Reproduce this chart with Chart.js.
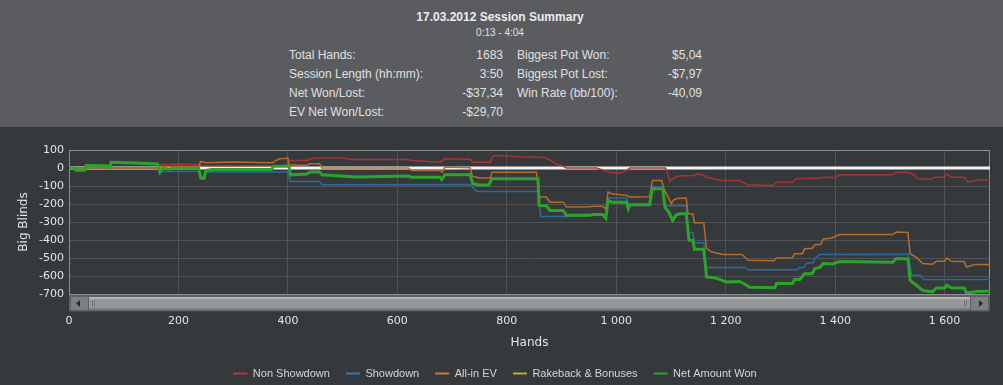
<!DOCTYPE html>
<html><head><meta charset="utf-8">
<script src="https://cdn.jsdelivr.net/npm/chart.js@4"></script>
<style>
html,body{margin:0;padding:0;width:1003px;height:385px;overflow:hidden;background:#36393c;}
#top{position:absolute;left:0;top:0;width:1003px;height:127px;background:#5a5c5f;font-family:"Liberation Sans",Arial,sans-serif;color:#e0e0e0;}
#title{position:absolute;left:0;width:1000px;top:10px;text-align:center;font-weight:bold;font-size:12px;line-height:15px;color:#ececec;}
#sub{position:absolute;left:0;width:1000px;top:27px;text-align:center;font-size:10px;line-height:12px;}
.lab,.val{position:absolute;font-size:12px;line-height:14px;white-space:nowrap;}
.val{text-align:right;}
#wrap{position:absolute;left:0;top:127px;width:1003px;height:262px;}
</style></head>
<body>
<div id="top"><div id="title"></div><div id="sub"></div></div>
<div id="wrap"><canvas id="c"></canvas></div>
<script>
// ---- summary texts ----
const titleText = "17.03.2012 Session Summary";
const subTitleText = "0:13 - 4:04";
const statLabelsLeft = ["Total Hands:", "Session Length (hh:mm):", "Net Won/Lost:", "EV Net Won/Lost:"];
const statValuesLeft = ["1683", "3:50", "-$37,34", "-$29,70"];
const statLabelsRight = ["Biggest Pot Won:", "Biggest Pot Lost:", "Win Rate (bb/100):"];
const statValuesRight = ["$5,04", "-$7,97", "-40,09"];

// ---- chart data: [hand, big blinds] ----
const seriesNames = ["Non Showdown", "Showdown", "All-in EV", "Rakeback & Bonuses", "Net Amount Won"];
const nonShowdown = [[0,0],[164,0],[168,18],[200,22],[238,20],[242,12],[260,13],[397,14],[402,42],[435,42],[440,51],[455,56],[495,56],[520,47],[620,47],[626,42],[678,32],[687,51],[733,48],[738,32],[770,32],[773,60],[778,69],[800,66],[826,62],[866,60],[872,55],[880,42],[890,23],[903,10],[909,0],[964,0],[991,-27],[1010,-27],[1019,-14],[1025,0],[1090,0],[1094,-30],[1098,-75],[1103,-60],[1108,-51],[1116,-45],[1140,-42],[1150,-32],[1160,-42],[1165,-51],[1194,-69],[1225,-69],[1240,-93],[1286,-97],[1293,-79],[1322,-79],[1329,-60],[1375,-55],[1378,-51],[1400,-54],[1408,-38],[1505,-38],[1512,-23],[1535,-25],[1545,-40],[1551,-60],[1575,-63],[1583,-51],[1600,-51],[1604,-32],[1612,-51],[1636,-51],[1642,-77],[1655,-72],[1660,-66],[1683,-66]];
const showdown = [[0,0],[164,0],[166,-32],[170,-20],[239,-20],[241,-56],[246,-56],[249,-25],[260,-22],[400,-22],[404,-75],[458,-75],[462,-93],[733,-91],[740,-115],[745,-130],[857,-130],[862,-269],[909,-269],[951,-265],[957,-260],[975,-260],[981,-278],[985,-167],[1019,-167],[1022,-204],[1061,-204],[1066,-106],[1085,-106],[1089,-210],[1128,-210],[1131,-358],[1140,-358],[1143,-415],[1160,-415],[1165,-553],[1236,-553],[1240,-565],[1330,-565],[1335,-553],[1343,-553],[1347,-531],[1360,-525],[1363,-503],[1372,-481],[1533,-479],[1540,-596],[1556,-596],[1561,-620],[1683,-620]];
const allInEV = [[0,0],[164,0],[168,8],[238,8],[240,36],[250,29],[300,33],[372,29],[378,42],[385,51],[400,54],[402,18],[435,14],[440,23],[458,23],[462,0],[620,0],[626,-14],[678,-14],[682,-23],[687,5],[733,2],[737,-45],[750,-56],[770,-56],[773,-23],[854,-23],[860,-161],[872,-161],[879,-190],[903,-190],[909,-217],[952,-215],[957,-212],[975,-212],[981,-228],[985,-134],[992,-143],[1019,-152],[1025,-161],[1061,-160],[1066,-69],[1083,-69],[1087,-115],[1093,-152],[1101,-199],[1104,-180],[1110,-170],[1128,-167],[1131,-254],[1140,-256],[1143,-304],[1160,-304],[1165,-448],[1175,-467],[1195,-481],[1230,-481],[1241,-513],[1288,-515],[1293,-500],[1322,-498],[1326,-476],[1340,-476],[1344,-448],[1358,-446],[1363,-426],[1374,-424],[1378,-396],[1394,-389],[1408,-370],[1505,-370],[1512,-356],[1533,-358],[1537,-476],[1548,-495],[1560,-531],[1578,-535],[1585,-518],[1600,-518],[1604,-500],[1612,-518],[1636,-520],[1640,-550],[1655,-536],[1683,-536]];
const rakeback = [[0,0],[1683,0]];
const netAmountWon = [[0,0],[10,0],[13,-12],[29,-12],[31,14],[70,12],[74,0],[77,32],[120,28],[162,22],[166,-23],[171,0],[183,-7],[188,-2],[237,-2],[241,-57],[247,-57],[250,-14],[260,-8],[370,-8],[374,10],[402,10],[405,-38],[435,-33],[440,-22],[458,-22],[462,-38],[526,-50],[575,-47],[620,-45],[626,-51],[678,-51],[681,-64],[687,-38],[733,-38],[738,-88],[750,-94],[767,-94],[773,-60],[830,-60],[857,-60],[859,-208],[872,-210],[879,-236],[903,-236],[909,-263],[951,-263],[957,-258],[975,-258],[981,-278],[985,-180],[992,-190],[1019,-190],[1022,-226],[1025,-204],[1061,-204],[1066,-115],[1085,-115],[1089,-217],[1096,-245],[1103,-291],[1110,-260],[1116,-254],[1128,-254],[1133,-402],[1140,-402],[1143,-452],[1160,-452],[1165,-605],[1180,-610],[1194,-624],[1200,-633],[1225,-630],[1232,-640],[1244,-663],[1290,-665],[1293,-642],[1322,-642],[1326,-618],[1335,-620],[1344,-587],[1358,-587],[1363,-559],[1372,-552],[1378,-531],[1395,-533],[1408,-520],[1505,-524],[1512,-503],[1533,-505],[1537,-624],[1548,-650],[1560,-680],[1578,-688],[1585,-666],[1600,-666],[1604,-651],[1612,-665],[1636,-667],[1640,-695],[1660,-686],[1683,-685]];
const totalHands = 1683;
const xTickValues = [0, 200, 400, 600, 800, 1000, 1200, 1400, 1600];
const yMin = -700, yMax = 100, yStep = 100;

// ---- summary layout ----
document.getElementById('title').textContent = titleText;
document.getElementById('sub').textContent = subTitleText;
const topDiv = document.getElementById('top');
const rowTops = [48, 67, 86, 105];
function addText(cls, txt, styleStr){ const d=document.createElement('div'); d.className=cls; d.textContent=txt; d.setAttribute('style',styleStr); topDiv.appendChild(d); }
statLabelsLeft.forEach((t,i)=>addText('lab',t,'left:289px;top:'+rowTops[i]+'px;'));
statValuesLeft.forEach((t,i)=>addText('val',t,'right:'+(1003-503)+'px;top:'+rowTops[i]+'px;'));
statLabelsRight.forEach((t,i)=>addText('lab',t,'left:517px;top:'+rowTops[i]+'px;'));
statValuesRight.forEach((t,i)=>addText('val',t,'right:'+(1003-702)+'px;top:'+rowTops[i]+'px;'));

const toXY = arr => arr.map(p => ({x:p[0], y:p[1]}));
const lineColors = ['#a53535', '#2c6a9c', '#b56d2c', '#b5ad32', '#2ca42c'];
const legendColors = ['#b23c3c', '#3479b0', '#c87a30', '#b8b030', '#26a826'];
const seriesData = [nonShowdown, showdown, allInEV, rakeback, netAmountWon];
const widths = [1.5, 1.5, 1.5, 1.5, 3];
const orders = [4, 3, 2, 10, 1];

const datasets = seriesData.map((d,i)=>({
  label: seriesNames[i], data: toXY(d), borderColor: lineColors[i], backgroundColor: legendColors[i],
  borderWidth: widths[i], order: orders[i], pointRadius: 0, tension: 0, fill: false, borderJoinStyle: 'miter'
}));

const decor = {
  id: 'decor',
  beforeDatasetsDraw(chart){
    const {ctx, chartArea:a} = chart;
    ctx.save();
    ctx.strokeStyle = '#8e9092'; ctx.lineWidth = 1;
    ctx.strokeRect(a.left+0.5, a.top+0.5, a.right-a.left-1, a.bottom-a.top);
    ctx.restore();
  },
  afterDatasetDraw(chart, args){
    if (args.index !== 3) return;
    const {ctx, chartArea:a, scales} = chart;
    const y0 = scales.y.getPixelForValue(0);
    ctx.save();
    ctx.strokeStyle = '#f2f2f2'; ctx.lineWidth = 3;
    ctx.beginPath(); ctx.moveTo(a.left, y0); ctx.lineTo(a.right, y0); ctx.stroke();
    ctx.restore();
  },
  afterDraw(chart){
    const {ctx, chartArea:a} = chart;
    const t = a.bottom + 1, h = 17;
    ctx.save();
    ctx.fillStyle = '#5f6265'; ctx.fillRect(a.left, t, a.right-a.left, h);
    ctx.fillStyle = '#46494c'; ctx.fillRect(a.left, t+h-1, a.right-a.left, 1);
    ctx.fillStyle = '#7c7e81'; ctx.fillRect(a.left+2, t+2, 17, h-4);
    ctx.fillStyle = '#26282a';
    ctx.beginPath(); const lx = a.left+9, my = t+h/2;
    ctx.moveTo(lx-2, my); ctx.lineTo(lx+2, my-3.5); ctx.lineTo(lx+2, my+3.5); ctx.closePath(); ctx.fill();
    ctx.fillStyle = '#7c7e81'; ctx.fillRect(a.right-19, t+2, 17, h-4);
    ctx.fillStyle = '#26282a';
    ctx.beginPath(); const rx = a.right-9;
    ctx.moveTo(rx+2, my); ctx.lineTo(rx-2, my-3.5); ctx.lineTo(rx-2, my+3.5); ctx.closePath(); ctx.fill();
    const tl = a.left+20, tr = a.right-20;
    ctx.fillStyle = '#96989a'; ctx.fillRect(tl, t+2, tr-tl, h-4);
    ctx.fillStyle = '#b3b5b7'; ctx.fillRect(tl, t+2, tr-tl, 2);
    ctx.fillStyle = '#7d7f81'; ctx.fillRect(tl, t+h-4, tr-tl, 2);
    ctx.fillStyle = '#707274';
    ctx.fillRect(tl+3, my-3, 1, 6); ctx.fillRect(tl+5, my-3, 1, 6);
    ctx.fillRect(tr-6, my-3, 1, 6); ctx.fillRect(tr-4, my-3, 1, 6);
    ctx.restore();
  }
};

const fmt = v => String(v).replace(/\B(?=(\d{3})+(?!\d))/g, ' ');
const tickColor = '#e4e4e4';
const gridColor = '#515457';

new Chart(document.getElementById('c'), {
  type: 'line',
  data: { datasets },
  plugins: [decor],
  options: {
    responsive: true, maintainAspectRatio: false, animation: false,
    layout: { padding: { top: 23, right: 13, left: 0, bottom: 0 } },
    plugins: {
      tooltip: { enabled: false },
      legend: {
        position: 'bottom',
        labels: {
          color: '#d6d6d6', font: { family: '"Liberation Sans", Arial, sans-serif', size: 11 },
          boxWidth: 14, boxHeight: 2, padding: 16,
          sort: (a,b) => a.datasetIndex - b.datasetIndex,
          generateLabels(chart){
            const items = Chart.defaults.plugins.legend.labels.generateLabels(chart);
            items.forEach(it => { it.fillStyle = legendColors[it.datasetIndex]; it.lineWidth = 0; });
            return items;
          }
        }
      }
    },
    scales: {
      x: {
        type: 'linear', min: 0, max: totalHands,
        afterBuildTicks: s => { s.ticks = xTickValues.map(v => ({value: v})); },
        afterFit: s => { s.height = 58; },
        ticks: { color: tickColor, padding: 21, maxRotation: 0, autoSkip: false,
          font: { family: '"DejaVu Sans", sans-serif', size: 11 }, callback: v => fmt(v) },
        grid: { color: gridColor, drawTicks: false },
        border: { display: false },
        title: { display: true, text: 'Hands', color: tickColor, padding: { top: 0, bottom: 2 },
          font: { family: '"DejaVu Sans", sans-serif', size: 12 } }
      },
      y: {
        min: yMin, max: yMax,
        afterFit: s => { s.width = 69; },
        ticks: { stepSize: yStep, color: tickColor, padding: 5,
          font: { family: '"DejaVu Sans", sans-serif', size: 11 } },
        grid: { color: gridColor, drawTicks: false },
        border: { display: false },
        title: { display: true, text: 'Big Blinds', color: tickColor, padding: { top: 17, bottom: 0 },
          font: { family: '"DejaVu Sans", sans-serif', size: 12 } }
      }
    }
  }
});
</script>
</body></html>
